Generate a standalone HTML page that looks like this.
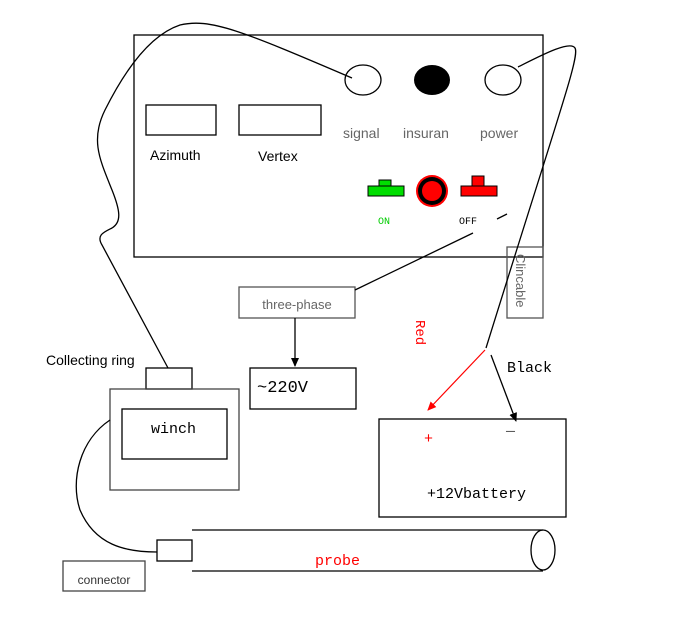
<!DOCTYPE html>
<html><head><style>
body{margin:0;background:#fff}
svg{display:block}
.t{font-family:"Liberation Sans",sans-serif}
.m{font-family:"Liberation Mono",monospace}
</style></head><body>
<svg width="700" height="621" viewBox="0 0 700 621" xmlns="http://www.w3.org/2000/svg">
<defs>
<marker id="ak" markerWidth="10" markerHeight="10" refX="8" refY="5" orient="auto" markerUnits="userSpaceOnUse"><path d="M0,1 L9,5 L0,9 z" fill="#000"/></marker>
<marker id="ar" markerWidth="10" markerHeight="10" refX="8" refY="5" orient="auto" markerUnits="userSpaceOnUse"><path d="M0,1 L9,5 L0,9 z" fill="red"/></marker>
</defs>
<g fill="none" stroke="#000" stroke-width="1.3">
<rect x="134" y="35" width="409" height="222"/>
<rect x="146" y="105" width="70" height="30"/>
<rect x="239" y="105" width="82" height="30"/>
<ellipse cx="363" cy="80" rx="18" ry="15"/>
<ellipse cx="503" cy="80" rx="18" ry="15"/>
<rect x="507" y="247" width="36" height="71" stroke="#555"/>
<rect x="239" y="287" width="116" height="31" stroke="#555"/>
<rect x="250" y="368" width="106" height="41"/>
<rect x="146" y="368" width="46" height="21"/>
<rect x="110" y="389" width="129" height="101" stroke="#444"/>
<rect x="122" y="409" width="105" height="50"/>
<rect x="379" y="419" width="187" height="98"/>
<path d="M192,530 H543 M192,571 H543"/>
<ellipse cx="543" cy="550" rx="12" ry="20"/>
<rect x="157" y="540" width="35" height="21"/>
<rect x="63" y="561" width="82" height="30" stroke="#444"/>
<path d="M168,368 L102,245 C96,235 104,232 112,228 C122,222 120,210 112,190 C100,160 90,140 105,110 C125,70 150,35 180,25 C210,18 240,30 352,78"/>
<path d="M518,67 C540,56 570,40 575,48 C580,56 560,110 486,348"/>
<path d="M355,290 L473,233"/>
<path d="M497,219 L507,214"/>
<path d="M295,318 V366" marker-end="url(#ak)"/>
<path d="M491,355 L516,421" marker-end="url(#ak)"/>
<path d="M110,420 C80,440 70,480 80,510 C95,545 125,552 157,552"/>
</g>
<path d="M485,350 L428,410" stroke="red" stroke-width="1.2" fill="none" marker-end="url(#ar)"/>
<ellipse cx="432" cy="80" rx="18" ry="15" fill="#000"/>
<rect x="368" y="186" width="36" height="10" fill="#0d0" stroke="#000"/>
<rect x="379" y="180" width="12" height="6" fill="#0d0" stroke="#000"/>
<rect x="461" y="186" width="36" height="10" fill="red" stroke="#000"/>
<rect x="472" y="176" width="12" height="10" fill="red" stroke="#000"/>
<circle cx="432" cy="191" r="16" fill="red"/>
<circle cx="432" cy="191" r="14" fill="#000"/>
<circle cx="432" cy="191" r="10" fill="red"/>
<g class="t" fill="#666" font-size="14">
<text x="343" y="138">signal</text>
<text x="403" y="138">insuran</text>
<text x="480" y="138">power</text>
<text x="297" y="309" text-anchor="middle" font-size="13">three-phase</text>
<text x="104" y="584" text-anchor="middle" font-size="12" fill="#333">connector</text>
<text x="516" y="254" transform="rotate(90 516 254)" font-size="13">Clincable</text>
</g>
<g class="t" fill="#000" font-size="14">
<text x="150" y="160">Azimuth</text>
<text x="258" y="161">Vertex</text>
<text x="46" y="365">Collecting ring</text>
</g>
<g class="m">
<text x="378" y="224" font-size="10" fill="#0c0">ON</text>
<text x="459" y="224" font-size="10">OFF</text>
<text x="416" y="320" font-size="14" fill="red" transform="rotate(90 416 320)">Red</text>
<text x="507" y="372" font-size="15">Black</text>
<text x="257" y="392" font-size="17">~220V</text>
<text x="151" y="433" font-size="15">winch</text>
<text x="424" y="443" font-size="15" fill="red">+</text>
<text x="506" y="430" font-size="15">_</text>
<text x="427" y="498" font-size="15">+12Vbattery</text>
<text x="315" y="565" font-size="15" fill="red">probe</text>
</g>
</svg>
</body></html>
